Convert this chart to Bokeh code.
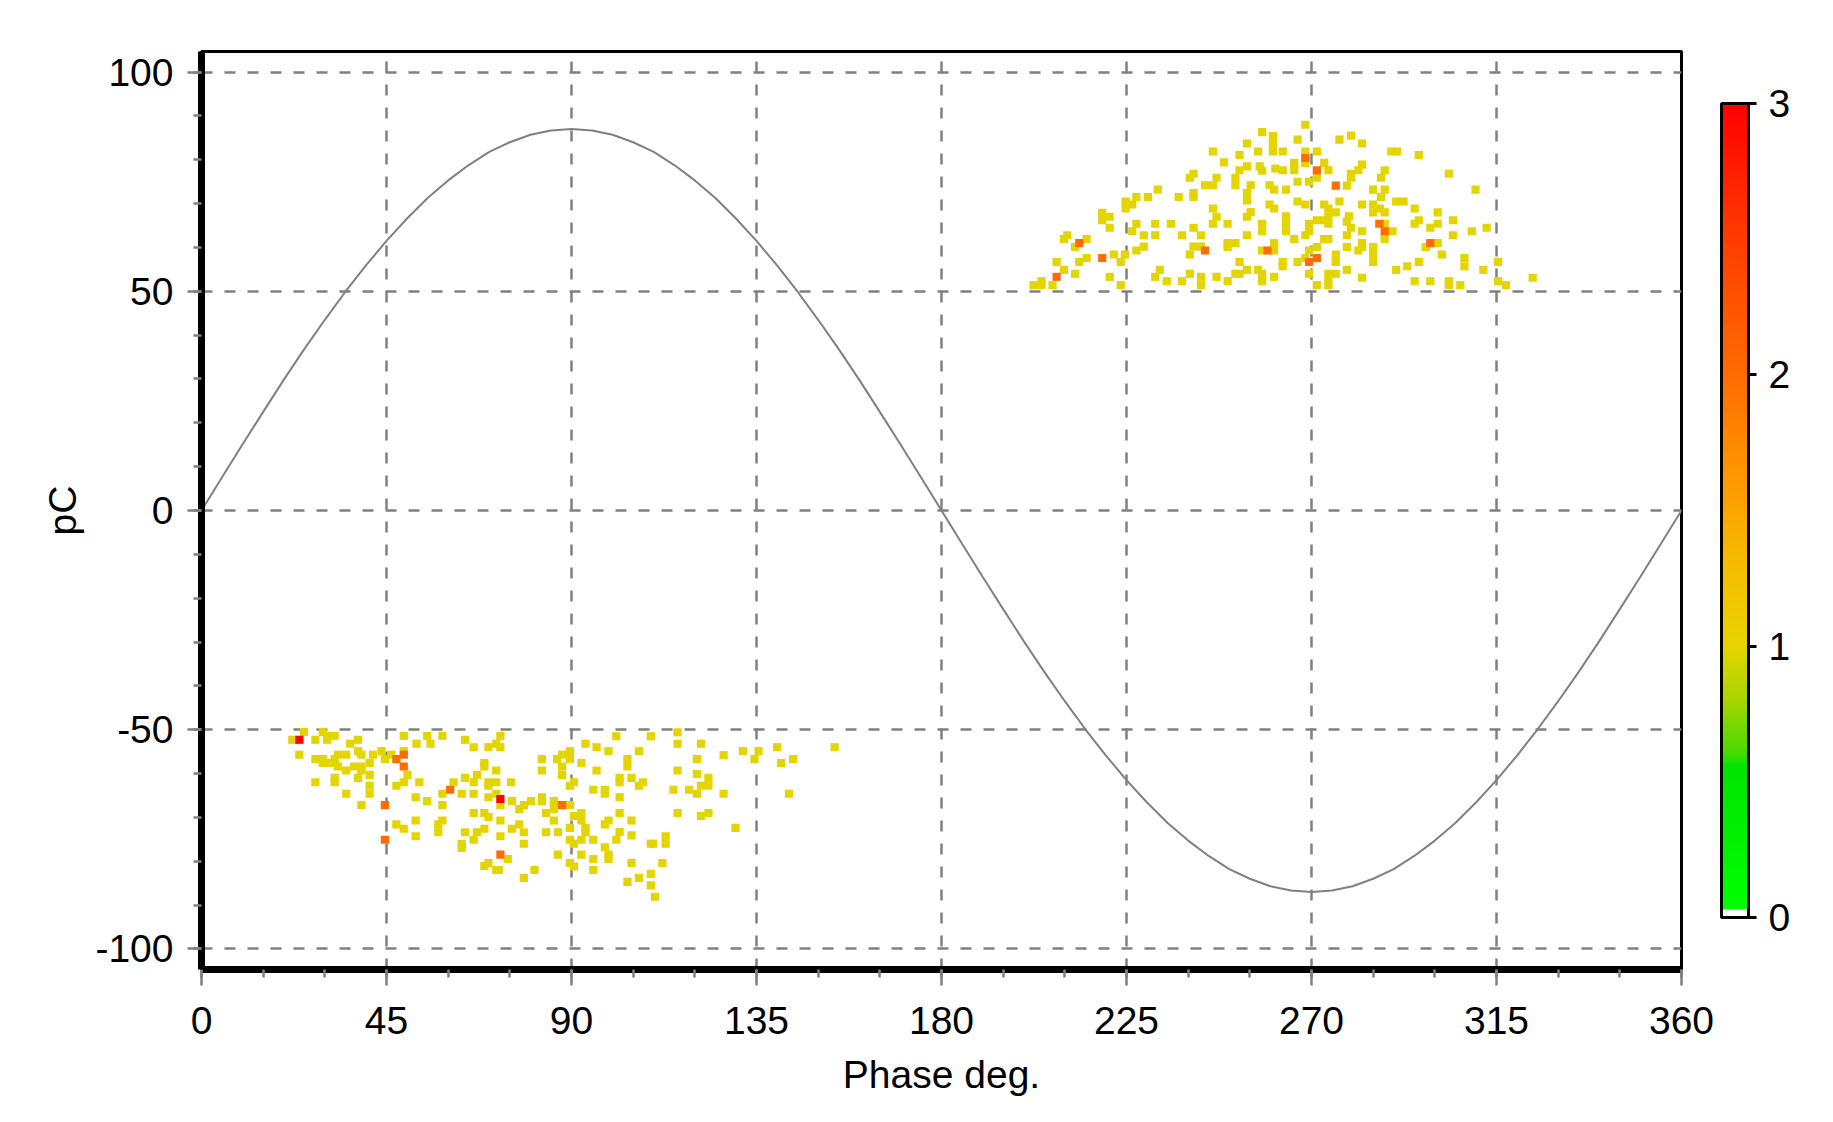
import numpy as np
from bokeh.plotting import figure
from bokeh.models import (Range1d, FixedTicker, LinearColorMapper, ColorBar, ColumnDataSource,
                          PrintfTickFormatter)
from bokeh.embed import file_html
from bokeh.resources import INLINE

# ---------------- data ----------------
x_ticks = [0, 45, 90, 135, 180, 225, 270, 315, 360]
x_minor = [0, 15, 30, 45, 60, 75, 90, 105, 120, 135, 150, 165, 180, 195, 210, 225,
           240, 255, 270, 285, 300, 315, 330, 345, 360]
y_ticks = [-100, -50, 0, 50, 100]
y_minor = [-100, -90, -80, -70, -60, -50, -40, -30, -20, -10, 0, 10, 20, 30, 40, 50,
           60, 70, 80, 90, 100]
cbar_ticks = [0, 1, 2, 3]

# reference sine (phase in degrees, charge in pC)
sine_phase = [0, 5, 10, 15, 20, 25, 30, 35, 40, 45, 50, 55, 60, 65, 70, 75, 80, 85, 90,
              95, 100, 105, 110, 115, 120, 125, 130, 135, 140, 145, 150, 155, 160, 165, 170, 175, 180,
              185, 190, 195, 200, 205, 210, 215, 220, 225, 230, 235, 240, 245, 250, 255, 260, 265, 270,
              275, 280, 285, 290, 295, 300, 305, 310, 315, 320, 325, 330, 335, 340, 345, 350, 355, 360]
sine_pc = [0.0, 7.6, 15.1, 22.5, 29.8, 36.8, 43.5, 49.9, 55.9, 61.5, 66.6, 71.3, 75.3, 78.8, 81.8, 84.0, 85.7, 86.7, 87.0,
           86.7, 85.7, 84.0, 81.8, 78.8, 75.3, 71.3, 66.6, 61.5, 55.9, 49.9, 43.5, 36.8, 29.8, 22.5, 15.1, 7.6, 0.0,
           -7.6, -15.1, -22.5, -29.8, -36.8, -43.5, -49.9, -55.9, -61.5, -66.6, -71.3, -75.3, -78.8, -81.8, -84.0, -85.7, -86.7, -87.0,
           -86.7, -85.7, -84.0, -81.8, -78.8, -75.3, -71.3, -66.6, -61.5, -55.9, -49.9, -43.5, -36.8, -29.8, -22.5, -15.1, -7.6, 0.0]

# upper cluster, count = 1
upper_phase = [258.0, 260.6, 260.6, 260.6, 254.3, 246.0, 257.0, 252.5, 248.7, 254.3, 257.4, 258.0, 252.5, 261.2,
               241.3, 240.4, 246.9, 251.5, 244.1, 246.0, 251.5, 255.2, 259.8, 260.9, 232.6, 241.3, 254.3, 227.4,
               230.2, 237.7, 241.3, 254.3, 259.8, 260.9, 224.8, 226.4, 224.8, 246.0, 219.1, 220.9, 219.1, 254.3,
               255.2, 246.9, 249.6, 227.4, 232.0, 235.8, 246.0, 258.0, 241.3, 220.9, 226.4, 258.0, 229.2, 232.0,
               238.5, 243.1, 254.3, 210.6, 209.8, 215.3, 212.5, 249.6, 251.5, 260.9, 227.4, 229.2, 241.3, 243.1,
               249.6, 260.9, 258.0, 240.4, 221.9, 224.6, 215.3, 213.5, 208.0, 223.6, 252.5, 209.8, 254.3, 257.0,
               258.0, 233.1, 212.5, 240.4, 251.5, 252.5, 220.9, 232.0, 246.9, 243.1, 260.9, 258.0, 204.3, 234.8,
               238.5, 249.6, 202.4, 204.3, 207.0, 223.6, 243.1,
               268.5, 266.6, 276.8, 279.6, 282.3, 263.0, 268.5, 271.3, 289.4, 290.8, 296.1, 265.8, 268.5, 273.1,
               265.8, 263.0, 274.1, 282.3, 281.4, 279.6, 279.6, 287.8, 286.9, 271.3, 303.4, 266.6, 269.4, 278.6,
               263.8, 285.0, 287.8, 286.9, 309.9, 266.6, 268.5, 273.1, 276.8, 282.3, 285.0, 285.0, 286.6, 287.8,
               290.6, 292.4, 295.1, 274.1, 275.9, 300.7, 263.8, 271.3, 273.1, 274.1, 274.1, 279.1, 278.6, 296.1,
               304.4, 295.1, 300.7, 298.9, 287.8, 289.7, 263.8, 269.4, 269.4, 279.6, 282.3, 309.0, 312.6, 263.8,
               268.5, 265.8, 273.1, 274.1, 278.6, 287.8, 304.4, 282.3, 282.3, 285.0, 278.6, 271.3, 269.4, 300.7,
               297.8, 281.4, 285.0, 301.7, 268.5, 266.6, 275.9, 275.9, 263.0, 263.0, 285.0, 296.1, 293.3, 307.2,
               307.2, 315.4, 278.6, 290.6, 311.8, 269.4, 274.1, 275.9, 282.3, 274.1, 323.8, 271.3, 274.1, 295.1,
               298.9, 303.4, 303.4, 306.2, 315.4, 317.3]
upper_pc = [86.3, 85.4, 83.6, 81.9, 83.7, 81.9, 81.9, 81.1, 79.4, 78.5, 78.5, 77.5, 77.6, 78.0,
            76.8, 75.9, 75.9, 75.9, 74.2, 74.2, 74.2, 74.2, 74.2, 73.2, 73.2, 72.4, 72.4, 71.5,
            71.5, 71.5, 71.5, 70.7, 69.8, 68.9, 70.5, 69.8, 68.9, 68.9, 67.9, 67.0, 66.2, 67.0,
            68.1, 67.0, 65.4, 65.4, 65.4, 65.4, 65.4, 65.4, 64.5, 64.5, 63.7, 63.7, 62.8, 62.8,
            62.8, 62.8, 62.8, 62.8, 61.9, 61.9, 60.1, 61.0, 61.0, 61.0, 59.3, 60.2, 60.2, 60.2,
            60.1, 59.3, 59.3, 58.4, 58.4, 58.4, 57.6, 56.7, 56.7, 56.7, 56.7, 54.9, 54.9, 54.9,
            54.0, 54.9, 54.0, 54.0, 54.0, 54.0, 53.3, 53.3, 53.3, 53.3, 53.3, 52.3, 52.3, 52.3,
            52.3, 52.3, 51.4, 51.4, 51.4, 51.4, 51.4,
            88.0, 84.6, 84.6, 85.5, 83.7, 81.9, 81.9, 81.9, 81.9, 81.9, 81.1, 79.3, 79.3, 79.3,
            77.6, 77.6, 77.6, 78.9, 77.6, 76.8, 75.9, 77.6, 75.9, 75.9, 76.8, 75.0, 75.0, 74.1,
            73.2, 73.2, 73.2, 71.5, 73.2, 70.5, 69.8, 69.8, 70.5, 69.8, 69.8, 68.0, 68.9, 68.0,
            70.5, 70.5, 68.9, 68.9, 68.0, 68.0, 67.1, 66.2, 66.2, 67.1, 65.4, 67.1, 65.9, 66.2,
            66.2, 65.4, 65.4, 64.5, 65.4, 63.7, 65.4, 65.4, 63.7, 64.5, 63.7, 63.7, 64.5, 63.7,
            62.8, 61.9, 61.9, 61.9, 62.8, 61.9, 62.8, 61.0, 60.1, 60.1, 60.1, 60.1, 59.3, 61.0,
            60.1, 59.3, 58.4, 58.4, 57.6, 56.7, 58.4, 56.7, 56.7, 55.7, 56.7, 56.7, 55.7, 57.6,
            55.7, 56.7, 54.9, 54.9, 54.9, 54.0, 54.0, 54.0, 53.1, 52.3, 53.1, 51.4, 51.4, 52.3,
            52.3, 52.3, 51.4, 51.4, 52.3, 51.4]

# lower cluster, count = 1
lower_phase = [24.9, 29.5, 30.6, 32.4, 49.2, 54.9, 58.6, 72.7, 22.1, 27.7, 30.6, 38.1, 36.2, 52.3,
               55.7, 64.1, 66.2, 69.8, 71.7, 72.7, 23.8, 38.1, 38.9, 41.7, 43.8, 44.6, 46.2, 49.2,
               27.7, 29.5, 29.5, 31.4, 33.2, 35.2, 32.4, 33.2, 35.2, 37.1, 38.9, 38.9, 40.9, 40.9,
               50.1, 82.8, 86.5, 68.8, 68.8, 71.7, 82.8, 27.7, 32.4, 32.4, 38.1, 40.9, 40.9, 35.2,
               38.9, 47.4, 49.2, 53.0, 61.3, 64.1, 66.2, 67.0, 69.8, 71.7, 69.8, 75.3, 58.6, 63.3,
               66.2, 71.7, 69.8, 72.7, 52.1, 54.9, 58.6, 75.5, 78.4, 77.3, 80.2, 82.8, 82.8, 85.7,
               85.7, 83.8, 66.2, 68.8, 69.8, 72.7, 85.7, 52.1, 58.6, 57.6, 57.6, 47.4, 49.2, 75.5,
               77.3, 78.4, 64.1, 67.0, 68.8, 72.7, 83.8, 86.7, 52.1, 66.2, 63.3, 63.3, 78.4, 74.5,
               86.7, 69.8, 68.8, 71.7, 72.3, 81.0, 78.4,
               100.9, 109.3, 115.8, 115.8, 121.5, 93.4, 96.1, 99.0, 106.4, 87.7, 89.6, 89.6, 92.4, 103.6,
               103.6, 120.5, 127.0, 131.7, 135.5, 134.5, 140.0, 141.0, 143.9, 154.0, 87.7, 87.7, 96.1, 115.8,
               120.5, 123.3, 123.3, 121.5, 120.5, 118.6, 114.8, 127.0, 142.9, 90.6, 89.6, 95.3, 98.1, 98.1,
               101.7, 101.7, 104.6, 107.4, 106.4, 101.7, 89.6, 90.6, 92.4, 92.4, 99.0, 98.1, 101.7, 104.6,
               115.8, 121.5, 123.3, 129.9, 89.6, 93.4, 93.4, 101.7, 104.6, 89.6, 90.6, 92.4, 95.3, 100.9,
               109.3, 109.8, 112.9, 112.9, 98.1, 92.4, 95.3, 99.0, 99.0, 89.6, 90.6, 104.6, 112.1, 95.3,
               109.3, 106.4, 103.6, 109.3, 110.3]
lower_pc = [-50.5, -50.5, -51.4, -51.4, -51.4, -51.4, -51.4, -51.4, -52.3, -52.3, -52.3, -52.3, -53.2, -53.2,
            -53.2, -52.3, -54.0, -54.0, -53.2, -54.0, -55.7, -54.9, -55.7, -55.7, -54.9, -56.7, -55.7, -54.9,
            -56.7, -56.7, -57.6, -57.6, -55.7, -55.7, -56.7, -58.4, -59.3, -58.4, -58.4, -59.3, -57.6, -60.3,
            -60.3, -56.7, -56.7, -57.6, -58.4, -59.3, -59.3, -62.0, -61.0, -62.0, -61.0, -62.8, -64.6, -64.6,
            -67.2, -62.8, -62.0, -62.0, -62.0, -61.0, -62.0, -60.3, -62.0, -62.0, -62.8, -62.0, -64.6, -64.6,
            -64.6, -64.6, -65.4, -67.2, -65.4, -66.3, -67.2, -66.3, -67.2, -68.1, -66.3, -65.4, -66.3, -66.3,
            -68.1, -69.0, -69.0, -69.0, -69.9, -70.7, -70.7, -70.7, -70.7, -71.6, -73.4, -71.6, -72.6, -72.6,
            -71.6, -73.4, -73.4, -73.4, -72.6, -74.3, -73.4, -73.4, -74.3, -75.1, -76.0, -77.0, -76.0, -79.5,
            -78.5, -80.4, -81.1, -82.0, -82.0, -82.0, -83.8,
            -51.5, -51.5, -50.6, -53.2, -53.2, -53.2, -54.0, -54.9, -54.9, -55.7, -54.9, -56.7, -57.6, -56.7,
            -58.4, -56.7, -55.8, -54.9, -54.9, -56.7, -54.0, -57.6, -56.7, -54.0, -58.4, -60.3, -59.3, -59.3,
            -60.1, -61.0, -62.8, -62.8, -64.6, -63.7, -63.7, -64.6, -64.6, -62.0, -62.8, -63.7, -63.7, -64.6,
            -61.0, -62.0, -61.0, -62.0, -62.8, -65.4, -67.2, -69.7, -69.0, -70.7, -70.7, -71.6, -69.0, -70.7,
            -69.0, -69.7, -69.0, -72.4, -72.4, -72.4, -73.4, -73.3, -74.1, -75.1, -76.0, -75.1, -75.1, -75.1,
            -76.0, -76.0, -74.3, -76.0, -76.8, -78.5, -79.5, -78.5, -79.5, -80.4, -81.2, -80.4, -80.4, -82.0,
            -82.9, -83.8, -84.7, -85.5, -88.1]

# cells with count = 2
double_phase = [213.5, 259.3, 244.1, 219.1, 208.0, 268.5, 271.3, 275.9, 286.5, 287.8, 298.9, 271.3, 269.4,
                47.4, 49.2, 49.2, 60.5, 44.6, 44.6, 72.7, 87.7]
double_pc = [61.0, 59.3, 59.3, 57.6, 53.3, 80.4, 77.6, 74.1, 65.4, 63.7, 61.0, 57.6, 56.7,
             -56.7, -55.7, -58.4, -63.7, -67.2, -75.1, -78.5, -67.2]

# cells with count = 3
triple_phase = [23.8, 72.7]
triple_pc = [-52.3, -65.8]

# ---------------- styling ----------------
FONT = "Liberation Sans"
FS = "39px"
GRID = "#808080"

stops = [(0.0, "#ffffff"), (0.03, "#ffffff"), (0.031, "#00ff00"), (0.56, "#00e400"),
         (0.60, "#44dc00"), (0.80, "#a6d500"), (1.0, "#e6d400"), (1.3, "#f6bc00"),
         (1.6, "#ff9a00"), (2.0, "#ff6c00"), (2.5, "#ff3c00"), (3.0, "#ff0000")]


def hex2rgb(h):
    return np.array([int(h[i:i + 2], 16) for i in (1, 3, 5)], dtype=float)


sv = np.array([s[0] for s in stops])
sc = np.array([hex2rgb(s[1]) for s in stops])
N = 300
palette = []
for i in range(N):
    v = (i + 0.5) / N * 3.0
    rgb = [np.interp(v, sv, sc[:, k]) for k in range(3)]
    palette.append("#%02x%02x%02x" % tuple(int(round(c)) for c in rgb))

mapper = LinearColorMapper(palette=palette, low=0, high=3)

p = figure(frame_width=1480, frame_height=918,
           min_border_left=201, min_border_top=51, min_border_right=130, min_border_bottom=140,
           x_range=Range1d(0, 360), y_range=Range1d(-104.7, 104.7),
           output_backend="svg", toolbar_location=None,
           background_fill_color="white", border_fill_color="white")

p.outline_line_color = "black"
p.outline_line_width = 3

for ax in (p.xaxis, p.yaxis):
    ax.axis_line_color = "black"
    ax.axis_line_width = 7
    ax.major_tick_line_color = GRID
    ax.minor_tick_line_color = GRID
    ax.major_tick_line_width = 2.5
    ax.minor_tick_line_width = 2.5
    ax.major_tick_in = 0
    ax.minor_tick_in = 0
    ax.major_label_text_font = FONT
    ax.major_label_text_font_size = FS
    ax.major_label_text_color = "black"
    ax.axis_label_text_font = FONT
    ax.axis_label_text_font_size = FS
    ax.axis_label_text_font_style = "normal"
    ax.axis_label_text_color = "black"
    ax.formatter = PrintfTickFormatter(format="%d")

p.xaxis.ticker = FixedTicker(ticks=x_ticks, minor_ticks=x_minor)
p.yaxis.ticker = FixedTicker(ticks=y_ticks, minor_ticks=y_minor)
p.xaxis.major_tick_out = 16
p.xaxis.minor_tick_out = 8
p.yaxis.major_tick_out = 14
p.yaxis.minor_tick_out = 8
p.xaxis.major_label_standoff = 21
p.yaxis.major_label_standoff = 14
p.xaxis.axis_label = "Phase deg."
p.yaxis.axis_label = "pC"
p.xaxis.axis_label_standoff = 16
p.yaxis.axis_label_standoff = 8

p.xgrid.ticker = FixedTicker(ticks=x_ticks)
p.ygrid.ticker = FixedTicker(ticks=y_ticks)
for g in (p.xgrid, p.ygrid):
    g.grid_line_color = GRID
    g.grid_line_width = 2.5
    g.grid_line_dash = "11 12"

# sine reference
p.line(sine_phase, sine_pc, line_color="#808080", line_width=2)

# histogram cells
cell_phase = upper_phase + lower_phase + double_phase + triple_phase
cell_pc = upper_pc + lower_pc + double_pc + triple_pc
cell_count = ([1] * (len(upper_phase) + len(lower_phase)) + [2] * len(double_phase)
              + [3] * len(triple_phase))
src = ColumnDataSource(dict(x=cell_phase, y=cell_pc, c=cell_count))
p.rect(x="x", y="y", width=2.0, height=1.85, source=src,
       fill_color={"field": "c", "transform": mapper}, line_color=None)

cb = ColorBar(color_mapper=mapper, ticker=FixedTicker(ticks=cbar_ticks),
              width=27, height=814, location="center_left", margin=0, padding=40,
              bar_line_color="black", bar_line_width=3,
              major_tick_line_color="black", major_tick_line_width=3,
              major_tick_in=0, major_tick_out=8, minor_tick_line_color=None,
              major_label_text_font=FONT, major_label_text_font_size=FS,
              major_label_text_color="black", label_standoff=12,
              background_fill_color=None, border_line_color=None)
p.add_layout(cb, "right")

open("out.html", "w").write(file_html(p, INLINE))
